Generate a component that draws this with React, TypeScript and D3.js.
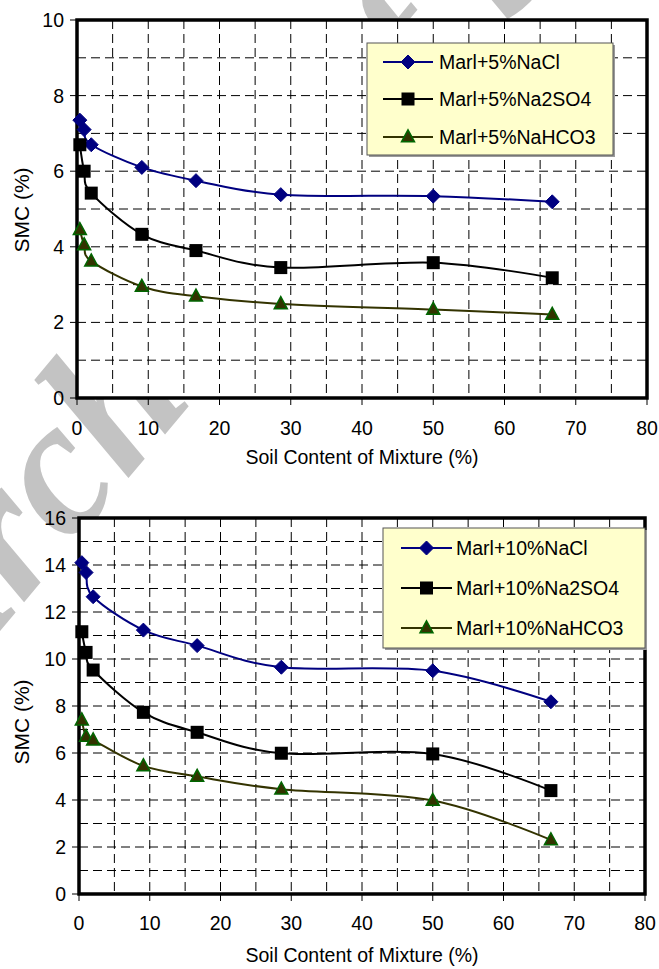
import React from 'react';
import * as d3 from 'd3';

// ---- data ----
const soilContent = [0.4, 1, 2, 9.1, 16.7, 28.6, 50, 66.7];

const nacl5 = [7.35, 7.1, 6.7, 6.1, 5.75, 5.38, 5.34, 5.19];
const na2so45 = [6.7, 6.0, 5.42, 4.33, 3.9, 3.45, 3.58, 3.18];
const nahco35 = [4.45, 4.05, 3.62, 2.95, 2.69, 2.49, 2.34, 2.21];

const nacl10 = [14.1, 13.68, 12.65, 11.23, 10.57, 9.65, 9.5, 8.18];
const na2so410 = [11.16, 10.28, 9.53, 7.73, 6.88, 5.99, 5.96, 4.4];
const nahco310 = [7.4, 6.7, 6.55, 5.45, 5.0, 4.46, 3.98, 2.3];

const xTicks = [0, 10, 20, 30, 40, 50, 60, 70, 80];
const yTicks5 = [0, 2, 4, 6, 8, 10];
const yTicks10 = [0, 2, 4, 6, 8, 10, 12, 14, 16];

const legend5 = ['Marl+5%NaCl', 'Marl+5%Na2SO4', 'Marl+5%NaHCO3'];
const legend10 = ['Marl+10%NaCl', 'Marl+10%Na2SO4', 'Marl+10%NaHCO3'];

const xTitle = 'Soil Content of Mixture (%)';
const yTitle = 'SMC (%)';
const watermark = 'Archive of SID';

type Kind = 'diamond' | 'square' | 'triangle';
const kinds: Kind[] = ['diamond', 'square', 'triangle'];
const lineColor: Record<Kind, string> = { diamond: '#000080', square: '#000000', triangle: '#333300' };

const FONT = '"Liberation Sans", Arial, sans-serif';

function Marker({ kind, x, y }: { kind: Kind; x: number; y: number }) {
  if (kind === 'diamond') {
    const r = 7;
    return <path d={`M${x},${y - r}L${x + r},${y}L${x},${y + r}L${x - r},${y}Z`} fill="#000080" stroke="#000080" strokeWidth={1} />;
  }
  if (kind === 'square') {
    const s = 6.5;
    return <rect x={x - s} y={y - s} width={2 * s} height={2 * s} fill="#000000" />;
  }
  const w = 6.5, h = 12;
  return <path d={`M${x},${y - h * 0.6}L${x + w},${y + h * 0.4}L${x - w},${y + h * 0.4}Z`} fill="#333300" stroke="#006600" strokeWidth={1.5} />;
}

type ChartProps = {
  left: number; right: number; top: number; bottom: number;
  yMax: number; yTicks: number[];
  series: number[][];
  legend: string[];
  legendBox: { x: number; y: number; w: number; h: number; rows: number[]; lx0: number; lx1: number; tx: number };
  yTitleY: number;
  xLabelY: number;
  xTitleY: number;
};

function Chart(p: ChartProps) {
  const x = d3.scaleLinear().domain([0, 80]).range([p.left, p.right]);
  const y = d3.scaleLinear().domain([0, p.yMax]).range([p.bottom, p.top]);
  const line = d3.line<[number, number]>().x(d => x(d[0])).y(d => y(d[1])).curve(d3.curveCardinal.tension(0));
  const vGrid = d3.range(5, 80, 5);
  const hGrid = d3.range(1, p.yMax, 1);
  const lb = p.legendBox;
  return (
    <g>
      <rect x={p.left} y={p.top} width={p.right - p.left} height={p.bottom - p.top} fill="#ffffff" />
      {vGrid.map(v => (
        <line key={'v' + v} x1={x(v)} x2={x(v)} y1={p.top} y2={p.bottom} stroke="#000" strokeWidth={1} strokeDasharray="9,5" />
      ))}
      {hGrid.map(v => (
        <line key={'h' + v} x1={p.left} x2={p.right} y1={y(v)} y2={y(v)} stroke="#000" strokeWidth={1} strokeDasharray="9,5" />
      ))}
      <rect x={p.left} y={p.top} width={p.right - p.left} height={p.bottom - p.top} fill="none" stroke="#000" strokeWidth={3.5} />
      {p.yTicks.map(t => (
        <g key={'yt' + t}>
          <line x1={p.left - 7} x2={p.left} y1={y(t)} y2={y(t)} stroke="#000" strokeWidth={1} />
          <text x={p.left - 13} y={y(t) + 7} textAnchor="end" fontFamily={FONT} fontSize={19.5} fill="#000">{t}</text>
        </g>
      ))}
      {xTicks.map(t => (
        <g key={'xt' + t}>
          <line x1={x(t)} x2={x(t)} y1={p.bottom} y2={p.bottom + 7} stroke="#000" strokeWidth={1} />
          <text x={x(t)} y={p.xLabelY} textAnchor="middle" fontFamily={FONT} fontSize={19.5} fill="#000">{t}</text>
        </g>
      ))}
      <text x={(p.left + p.right) / 2} y={p.xTitleY} textAnchor="middle" fontFamily={FONT} fontSize={19.5} fill="#000">{xTitle}</text>
      <text transform={`translate(29,${p.yTitleY}) rotate(-90)`} textAnchor="middle" fontFamily={FONT} fontSize={21} fill="#000">{yTitle}</text>
      {p.series.map((vals, i) => {
        const pts = soilContent.map((s, j) => [s, vals[j]] as [number, number]);
        return (
          <g key={'s' + i}>
            <path d={line(pts) || ''} fill="none" stroke={lineColor[kinds[i]]} strokeWidth={2} />
            {pts.map((d, j) => <Marker key={j} kind={kinds[i]} x={x(d[0])} y={y(d[1])} />)}
          </g>
        );
      })}
      <rect x={lb.x + 2} y={lb.y + 2} width={lb.w} height={lb.h} fill="#9a9a9a" />
      <rect x={lb.x} y={lb.y} width={lb.w} height={lb.h} fill="#FFFFCC" stroke="#555" strokeWidth={1} />
      {p.legend.map((name, i) => (
        <g key={'l' + i}>
          <line x1={lb.lx0} x2={lb.lx1} y1={lb.rows[i]} y2={lb.rows[i]} stroke={lineColor[kinds[i]]} strokeWidth={2} />
          <Marker kind={kinds[i]} x={(lb.lx0 + lb.lx1) / 2} y={lb.rows[i]} />
          <text x={lb.tx} y={lb.rows[i] + 7} fontFamily={FONT} fontSize={19.5} fill="#000">{name}</text>
        </g>
      ))}
    </g>
  );
}

export default function App() {
  const wx = -62, wy = 705;
  return (
    <svg width={659} height={969} viewBox="0 0 659 969" style={{ position: 'absolute', left: 0, top: 0, display: 'block', background: '#fff' }}>
      <rect x={0} y={0} width={659} height={969} fill="#ffffff" />
      <text x={wx} y={wy} transform={`rotate(-50,${wx},${wy})`} fontFamily='"Liberation Serif", "Times New Roman", serif' fontWeight="bold" fontStyle="italic" fontSize={195} fill="#c3c3c3">{watermark}</text>
      <Chart
        left={77} right={647} top={20} bottom={398}
        yMax={10} yTicks={yTicks5}
        series={[nacl5, na2so45, nahco35]}
        legend={legend5}
        legendBox={{ x: 367, y: 43, w: 246, h: 112, rows: [62, 99, 137], lx0: 383, lx1: 433, tx: 439 }}
        yTitleY={210}
        xLabelY={435}
        xTitleY={464}
      />
      <Chart
        left={79} right={645} top={518} bottom={894}
        yMax={16} yTicks={yTicks10}
        series={[nacl10, na2so410, nahco310]}
        legend={legend10}
        legendBox={{ x: 383, y: 528, w: 262, h: 120, rows: [548, 588, 628], lx0: 401, lx1: 452, tx: 456 }}
        yTitleY={722}
        xLabelY={930}
        xTitleY={962}
      />
    </svg>
  );
}
